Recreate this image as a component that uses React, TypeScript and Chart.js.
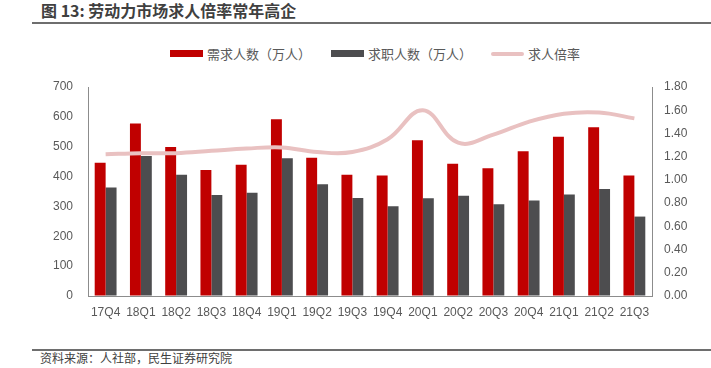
import React, { useEffect, useRef } from "react";
import { Chart, registerables } from "chart.js";
Chart.register(...registerables);

const categories = ["17Q4", "18Q1", "18Q2", "18Q3", "18Q4", "19Q1", "19Q2", "19Q3", "19Q4", "20Q1", "20Q2", "20Q3", "20Q4", "21Q1", "21Q2", "21Q3"];
const demand = [446, 578, 499, 422, 440, 592, 463, 406, 404, 522, 443, 428, 485, 533, 565, 404];
const supply = [363, 469, 406, 338, 346, 461, 374, 328, 301, 327, 336, 307, 320, 340, 358, 266];
const ratio = [1.22, 1.23, 1.23, 1.25, 1.27, 1.28, 1.24, 1.24, 1.35, 1.6, 1.32, 1.39, 1.5, 1.57, 1.58, 1.53];
const seriesNames = ["需求人数（万人）", "求职人数（万人）", "求人倍率"];
const seriesColors = ["#C00000", "#4D4D4F", "#E9C1C1"];
const leftMax = 700;
const leftStep = 100;
const rightMax = 1.8;
const rightStep = 0.2;

const TICK_FONT = { family: '"Liberation Sans", "Noto Sans CJK SC", sans-serif', size: 12 };
const CJK = '"Noto Sans CJK SC", sans-serif';

export default function App() {
  const ref = useRef<HTMLCanvasElement | null>(null);
  useEffect(() => {
    if (!ref.current) return;
    const chart = new Chart(ref.current, {
      type: "bar",
      data: {
        labels: categories,
        datasets: [
          { type: "bar", label: seriesNames[0], data: demand, backgroundColor: seriesColors[0], yAxisID: "y", barPercentage: 1, categoryPercentage: 0.62 },
          { type: "bar", label: seriesNames[1], data: supply, backgroundColor: seriesColors[1], yAxisID: "y", barPercentage: 1, categoryPercentage: 0.62 },
          { type: "line", label: seriesNames[2], data: ratio, borderColor: seriesColors[2], backgroundColor: seriesColors[2], borderWidth: 4, pointRadius: 0, tension: 0.4, yAxisID: "y1", order: -1 } as any,
        ],
      },
      options: {
        animation: false,
        responsive: false,
        maintainAspectRatio: false,
        layout: { padding: { top: 57, left: 0, right: 0, bottom: 0 } },
        plugins: {
          tooltip: { enabled: false },
          legend: { display: false },
        },
        scales: {
          x: {
            grid: { display: true, drawOnChartArea: false, drawTicks: false },
            border: { display: true, color: "#8C8C8C", width: 1 },
            ticks: { color: "#595959", font: TICK_FONT, padding: 9, maxRotation: 0, autoSkip: false },
            afterFit: (s: any) => { s.height = 34; },
          },
          y: {
            position: "left",
            min: 0,
            max: leftMax,
            grid: { display: true, drawOnChartArea: false, drawTicks: false },
            border: { display: true, color: "#8C8C8C", width: 1 },
            ticks: { stepSize: leftStep, color: "#595959", font: TICK_FONT, padding: 15 },
            afterFit: (s: any) => { s.width = 88; },
          },
          y1: {
            position: "right",
            min: 0,
            max: rightMax,
            grid: { display: true, drawOnChartArea: false, drawTicks: false },
            border: { display: true, color: "#8C8C8C", width: 1 },
            ticks: { stepSize: rightStep, color: "#595959", font: TICK_FONT, padding: 12, callback: (v: any) => Number(v).toFixed(2) },
            afterFit: (s: any) => { s.width = 59; },
          },
        },
      },
    });
    return () => chart.destroy();
  }, []);

  const legendItems = [
    { x: 170, text: seriesNames[0], color: seriesColors[0], h: 7 },
    { x: 331, text: seriesNames[1], color: seriesColors[1], h: 7 },
    { x: 491, text: seriesNames[2], color: seriesColors[2], h: 4 },
  ];

  return (
    <div style={{ position: "fixed", left: 0, top: 0, width: 711, height: 368, background: "#fff", overflow: "hidden" }}>
      <div style={{ position: "absolute", left: 41, top: 0, fontFamily: CJK, fontWeight: 700, fontSize: 16, lineHeight: "20px", color: "#404040", whiteSpace: "nowrap" }}>
        图 13: 劳动力市场求人倍率常年高企
      </div>
      <div style={{ position: "absolute", left: 32, top: 22, width: 679, height: 2, background: "#6E6E6E" }} />
      {legendItems.map((it, i) => (
        <div key={i} style={{ position: "absolute", left: it.x, top: 45, height: 17, display: "flex", alignItems: "center", whiteSpace: "nowrap" }}>
          <div style={{ width: 33, height: it.h, background: it.color, borderRadius: it.h === 4 ? 2 : 0 }} />
          <span style={{ marginLeft: 4, fontFamily: CJK, fontSize: 13, lineHeight: "17px", color: "#595959" }}>{it.text}</span>
        </div>
      ))}
      <div style={{ position: "absolute", left: 0, top: 30, width: 711, height: 300 }}>
        <canvas ref={ref} width={711} height={300} style={{ width: 711, height: 300, display: "block" }} />
      </div>
      <div style={{ position: "absolute", left: 32, top: 349, width: 679, height: 2, background: "#6E6E6E" }} />
      <div style={{ position: "absolute", left: 40, top: 351, fontFamily: CJK, fontSize: 12, lineHeight: "14px", color: "#404040", whiteSpace: "nowrap" }}>
        资料来源：人社部，民生证券研究院
      </div>
    </div>
  );
}
